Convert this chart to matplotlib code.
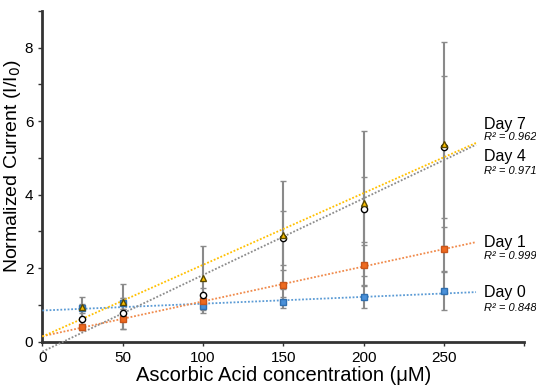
import numpy as np
import matplotlib.pyplot as plt

plt.rcParams['font.family'] = ['Liberation Sans', 'DejaVu Sans']

# concentrations (uM)
conc = [25, 50, 100, 150, 200, 250]

days = ["Day 0", "Day 1", "Day 4", "Day 7"]
r2_text = ["0.848", "0.999", "0.971", "0.962"]

day0 = [0.91, 1.05, 0.97, 1.07, 1.23, 1.37]
day1 = [0.39, 0.62, 1.11, 1.54, 2.09, 2.53]
day4 = [0.62, 0.77, 1.27, 2.82, 3.60, 5.30]
day7 = [0.94, 1.09, 1.73, 2.91, 3.77, 5.38]

err0 = [0.12, 0.15, 0.20, 0.16, 0.30, 0.52]
err1 = [0.08, 0.27, 0.15, 0.40, 0.55, 0.60]
err4 = [0.30, 0.42, 0.20, 0.73, 0.88, 1.92]
err7 = [0.29, 0.48, 0.88, 1.47, 1.97, 2.78]

# trend lines read at x = 0 and x = 270
trend_x = [0, 270]
trend0 = [0.85, 1.35]
trend1 = [0.15, 2.71]
trend4 = [-0.27, 5.36]
trend7 = [0.14, 5.41]

values = [day0, day1, day4, day7]
errors = [err0, err1, err4, err7]
trends = [trend0, trend1, trend4, trend7]

line_colors = ["#5B9BD5", "#F08A4B", "#8C8C8C", "#FFC000"]
face_colors = ["#4A90D9", "#EE6A1F", "white", "#FFC000"]
edge_colors = ["#2F6FB0", "#C8551A", "black", "#5A4A00"]
markers = ["s", "s", "o", "^"]

# label positions (y in data units) on the right side
label_y = [1.35, 2.71, 5.03, 5.9]
r2_y = [0.93, 2.33, 4.65, 5.56]

fig = plt.figure(figsize=(5.36, 3.91), dpi=100)
ax = fig.add_axes([0.079, 0.126, 0.899, 0.846])

for i in range(4):
    ax.errorbar(conc, values[i], yerr=errors[i], fmt="none", ecolor="#8A8A8A",
                elinewidth=1.5, capsize=2, capthick=1.0, zorder=2)

for i in range(4):
    ax.plot(trend_x, trends[i], linestyle=(0, (1, 1)), color=line_colors[i],
            linewidth=1.3, zorder=3, clip_on=False)

for i in range(4):
    ax.plot(conc, values[i], linestyle="none", marker=markers[i], markersize=4.5,
            markerfacecolor=face_colors[i], markeredgecolor=edge_colors[i],
            markeredgewidth=1.0, zorder=4)

for i in range(4):
    ax.text(275, label_y[i], days[i], fontsize=11.5, va="center", ha="left")
    ax.text(275, r2_y[i], "R\u00b2 = " + r2_text[i], fontsize=8,
            family=["Liberation Sans Narrow", "Liberation Sans"],
            style="italic", va="center", ha="left")

ax.set_xlim(0, 300)
ax.set_ylim(0, 9)
ax.set_xticks([0, 50, 100, 150, 200, 250, 300])
ax.set_xticklabels(["0", "50", "100", "150", "200", "250", ""])
ax.set_yticks([0, 2, 4, 6, 8])
ax.set_yticks([1, 3, 5, 7, 9], minor=True)
ax.tick_params(axis="both", labelsize=11, length=3, width=1, color="#333333")
ax.tick_params(axis="y", which="minor", length=3, width=1, color="#333333")

for side in ["top", "right"]:
    ax.spines[side].set_visible(False)
ax.spines["left"].set_linewidth(2)
ax.spines["bottom"].set_linewidth(2)
ax.spines["left"].set_color("#333333")
ax.spines["bottom"].set_color("#333333")

ax.set_xlabel("Ascorbic Acid concentration (\u03bcM)", fontsize=14.5, labelpad=1)
ax.set_ylabel("Normalized Current (I/I$_0$)", fontsize=14, labelpad=1)
ax.yaxis.set_label_coords(-0.04, 0.53)

fig.savefig("out.png", dpi=100)
